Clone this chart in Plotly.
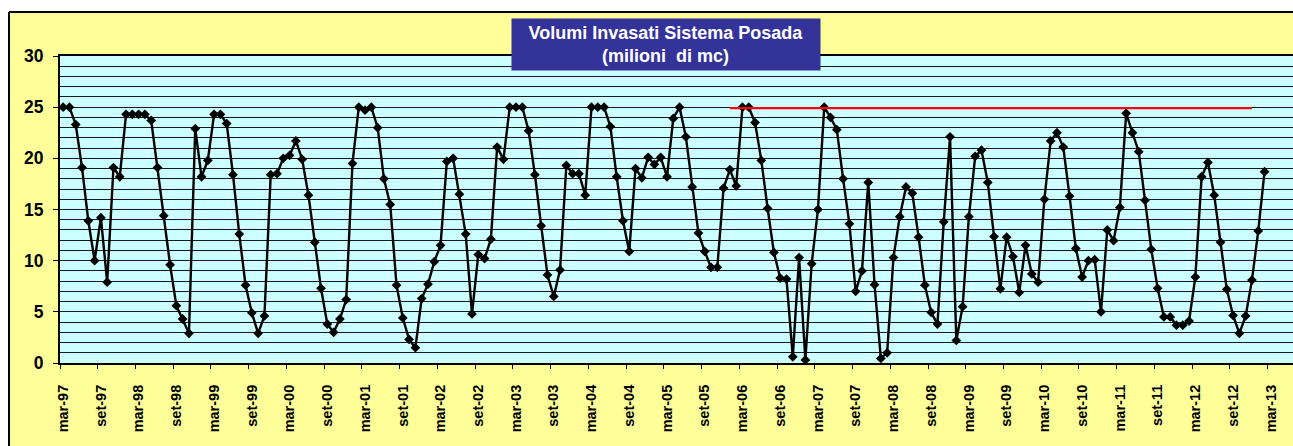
import plotly.graph_objects as go

# ---- data ----
month_names = ["gen", "feb", "mar", "apr", "mag", "giu", "lug", "ago", "set", "ott", "nov", "dic"]
# categories: mar-97 ... (monthly)
categories = []
for yr in range(1997, 2014):
    for mi, mn in enumerate(month_names):
        if yr == 1997 and mi < 2:
            continue
        categories.append(f"{mn}-{yr % 100:02d}")

volumes = [
    25.0, 25.0, 23.3, 19.1, 13.9, 10.0, 14.2, 7.9, 19.1, 18.2, 24.3, 24.3,
    24.3, 24.3, 23.7, 19.1, 14.4, 9.6, 5.6, 4.3, 2.9, 22.9, 18.2, 19.8,
    24.3, 24.3, 23.4, 18.4, 12.6, 7.6, 4.9, 2.9, 4.6, 18.4, 18.5, 20.0,
    20.3, 21.7, 19.9, 16.4, 11.8, 7.3, 3.8, 3.0, 4.3, 6.2, 19.5, 25.0,
    24.7, 25.0, 23.0, 18.0, 15.5, 7.6, 4.4, 2.3, 1.5, 6.3, 7.7, 9.9,
    11.5, 19.7, 20.0, 16.5, 12.6, 4.8, 10.6, 10.2, 12.1, 21.1, 19.9, 25.0,
    25.0, 25.0, 22.7, 18.4, 13.4, 8.6, 6.5, 9.1, 19.3, 18.5, 18.5, 16.4,
    25.0, 25.0, 25.0, 23.1, 18.2, 13.9, 10.9, 19.0, 18.1, 20.1, 19.4, 20.1,
    18.2, 23.9, 25.0, 22.1, 17.2, 12.7, 10.9, 9.35, 9.35, 17.1, 18.9, 17.3,
    25.0, 25.0, 23.5, 19.8, 15.1, 10.8, 8.3, 8.2, 0.6, 10.3, 0.3, 9.7,
    15.0, 25.0, 24.0, 22.8, 18.0, 13.6, 7.0, 9.0, 17.65, 7.65, 0.45, 1.0,
    10.3, 14.3, 17.2, 16.6, 12.3, 7.6, 4.95, 3.8, 13.8, 22.1, 2.2, 5.5,
    14.3, 20.2, 20.8, 17.65, 12.35, 7.25, 12.3, 10.4, 6.9, 11.5, 8.7, 7.9,
    16.0, 21.7, 22.5, 21.1, 16.3, 11.2, 8.4, 10.0, 10.1, 5.0, 13.0, 11.95,
    15.2, 24.4, 22.5, 20.65, 15.9, 11.1, 7.3, 4.5, 4.5, 3.7, 3.7, 4.1,
    8.4, 18.2, 19.6, 16.4, 11.8, 7.2, 4.65, 2.9, 4.6, 8.1, 12.9, 18.7,
]

tick_labels = [
    "mar-97", "set-97", "mar-98", "set-98", "mar-99", "set-99", "mar-00", "set-00",
    "mar-01", "set-01", "mar-02", "set-02", "mar-03", "set-03", "mar-04", "set-04",
    "mar-05", "set-05", "mar-06", "set-06", "mar-07", "set-07", "mar-08", "set-08",
    "mar-09", "set-09", "mar-10", "set-10", "mar-11", "set-11", "mar-12", "set-12",
    "mar-13",
]

limit_value = 24.9
limit_from = "gen-06"
limit_to = "dic-12"

# ---- figure ----
x_idx = list(range(len(volumes)))
label_pos = [categories.index(t) for t in tick_labels]
tick_bounds = [p - 0.5 for p in label_pos]
limit_x = [categories.index(limit_from), categories.index(limit_to)]
limit_y = [limit_value, limit_value]

FONT = "Arial, Liberation Sans, sans-serif"
W, H = 1293, 446
ML, MR, MT, MB = 60, 0, 56, 83
pw = W - ML - MR
ph = H - MT - MB

def px_x(px):
    return (px - ML) / pw

def px_y(py):
    return (H - MB - py) / ph

fig = go.Figure()

fig.add_trace(go.Scatter(
    x=limit_x, y=limit_y, mode="lines", xaxis="x2",
    line=dict(color="#FF0000", width=2.2), hoverinfo="skip", showlegend=False,
))
fig.add_trace(go.Scatter(
    x=x_idx, y=volumes, mode="lines+markers",
    line=dict(color="#000000", width=2.4),
    marker=dict(symbol="diamond", size=7.5, color="#000000"),
    showlegend=False,
))

xr = [-0.5, -0.5 + pw / 6.29]

frame = dict(color="#000000", width=2)
fig.update_layout(
    width=W, height=H,
    margin=dict(l=ML, r=MR, t=MT, b=MB, pad=0),
    paper_bgcolor="#FFFF99",
    plot_bgcolor="#CCFFFF",
    font=dict(family=FONT, color="#000000"),
    xaxis=dict(
        range=xr, tickmode="array", tickvals=label_pos, ticktext=tick_labels,
        tickangle=-90, ticks="", showgrid=False, zeroline=False,
        tickfont=dict(family=FONT, size=14.5, color="#000000", weight="bold"),
        showline=True, linecolor="#000000", linewidth=2, mirror=True,
        ticklabelstandoff=14,
    ),
    xaxis2=dict(
        range=xr, overlaying="x", matches="x", tickmode="array", tickvals=tick_bounds,
        ticks="outside", ticklen=5, tickwidth=1, tickcolor="#000000",
        showticklabels=False, showgrid=False, zeroline=False, side="bottom",
    ),
    yaxis=dict(
        range=[0, 30], tickmode="linear", tick0=0, dtick=5,
        ticks="outside", ticklen=5, tickwidth=1, tickcolor="#000000",
        tickfont=dict(family=FONT, size=17.5, color="#000000", weight="bold"),
        showgrid=True, gridcolor="#1a1a1a", gridwidth=1,
        minor=dict(dtick=1, showgrid=True, gridcolor="#1a1a1a", gridwidth=1, ticks=""),
        zeroline=False, showline=True, linecolor="#000000", linewidth=2,
        ticklabelstandoff=6,
    ),
    shapes=[
        # white page outside the chart area (top strip and left strip)
        dict(type="rect", xref="paper", yref="paper", layer="above",
             x0=px_x(-5), x1=px_x(W + 5), y0=px_y(11), y1=px_y(-5),
             fillcolor="#FFFFFF", line=dict(width=0)),
        dict(type="rect", xref="paper", yref="paper", layer="above",
             x0=px_x(-5), x1=px_x(8), y0=px_y(H + 5), y1=px_y(-5),
             fillcolor="#FFFFFF", line=dict(width=0)),
        # chart-area border
        dict(type="line", xref="paper", yref="paper", layer="above",
             x0=px_x(9), x1=px_x(W + 5), y0=px_y(12), y1=px_y(12), line=frame),
        dict(type="line", xref="paper", yref="paper", layer="above",
             x0=px_x(9), x1=px_x(9), y0=px_y(12), y1=px_y(H + 5), line=frame),
    ],
    annotations=[
        dict(xref="paper", yref="paper", x=px_x(666), y=px_y(44.5),
             xanchor="center", yanchor="middle", showarrow=False,
             text="<b>Volumi Invasati Sistema Posada<br>(milioni&nbsp; di mc)</b>",
             font=dict(family=FONT, size=18, color="#FFFFFF"),
             bgcolor="#333399", width=308, height=51, borderpad=0, align="center"),
    ],
)

fig.write_html("out.html", config={"displayModeBar": False},
               post_script="document.body.style.margin='0';")
